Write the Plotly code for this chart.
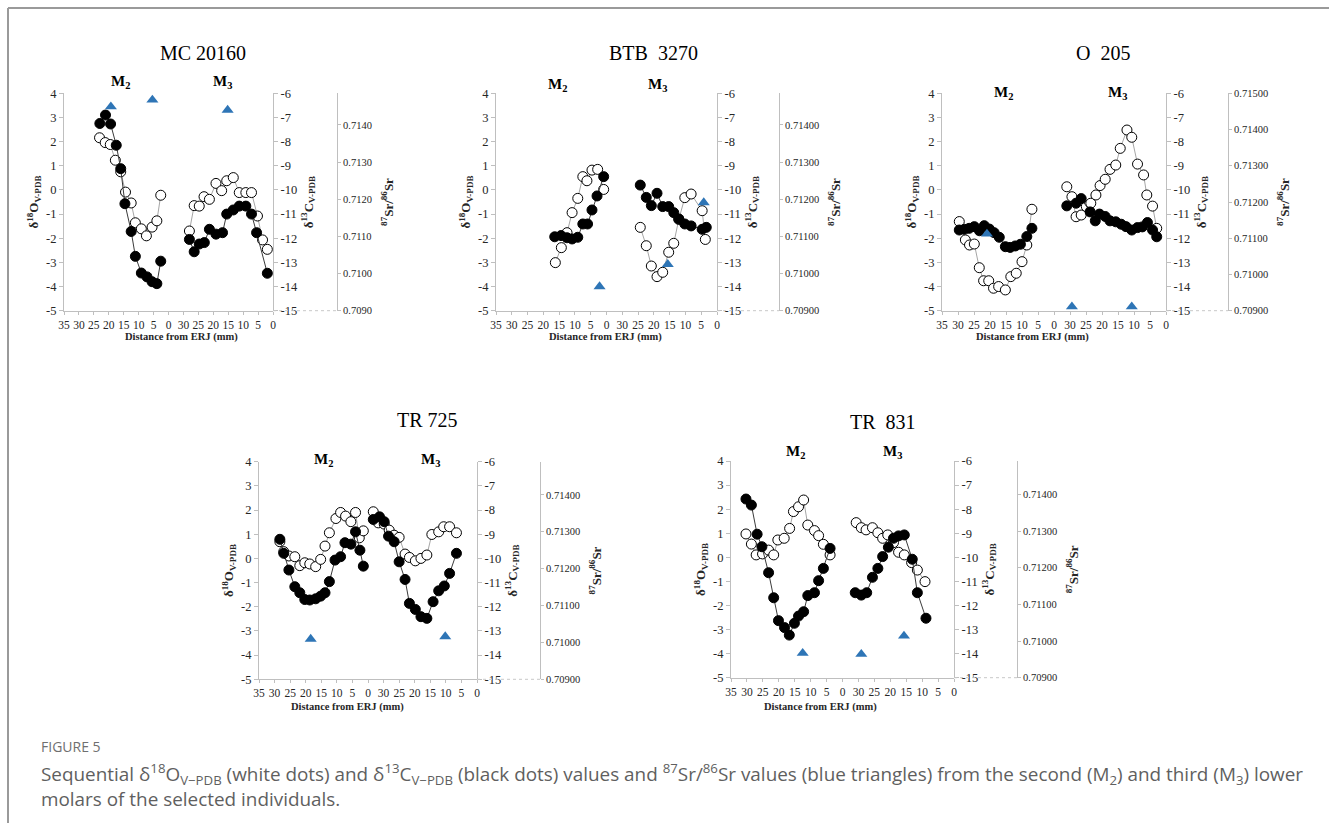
import plotly.graph_objects as go

W, H = 1329, 823

# ---------------- data (distance from ERJ in mm, isotope values) ----------------
# MC 20160
MC_M2_o_d = [23.1, 21.2, 19.5, 17.8, 16.0, 14.4, 12.5, 11.1, 9.1, 7.4, 5.5, 3.9, 2.6]
MC_M2_o = [2.16, 1.96, 1.88, 1.23, 0.75, -0.09, -0.54, -1.36, -1.61, -1.90, -1.54, -1.28, -0.22]
MC_M2_c_d = [23.0, 21.1, 19.4, 17.5, 16.0, 14.6, 12.5, 11.1, 9.1, 7.2, 5.5, 3.9, 2.6]
MC_M2_c = [-7.25, -6.90, -7.27, -8.15, -9.12, -10.57, -11.72, -12.75, -13.44, -13.60, -13.80, -13.88, -12.95]
MC_M3_o_d = [28.0, 26.4, 24.7, 23.1, 21.3, 19.1, 17.2, 15.5, 13.3, 11.3, 9.1, 7.2, 5.2, 3.5, 1.9]
MC_M3_o = [-1.70, -0.65, -0.67, -0.28, -0.39, 0.27, -0.03, 0.38, 0.51, -0.11, -0.11, -0.11, -1.08, -2.07, -2.46]
MC_M3_c_d = [28.0, 26.4, 24.7, 23.0, 21.3, 19.1, 16.9, 15.5, 13.3, 11.3, 9.1, 7.2, 5.5, 1.9]
MC_M3_c = [-12.05, -12.56, -12.24, -12.18, -11.63, -11.83, -11.77, -11.00, -10.83, -10.67, -10.67, -11.00, -11.77, -13.45]
MC_M2_sr_d = [19.3, 5.4]
MC_M2_sr = [0.71449, 0.71467]
MC_M3_sr_d = [15.2]
MC_M3_sr = [0.71440]

# BTB 3270
BTB_M2_o_d = [16.2, 14.3, 12.5, 10.9, 9.1, 7.5, 6.2, 4.6, 2.8, 0.9]
BTB_M2_o = [-3.01, -2.39, -1.77, -0.94, -0.35, 0.55, 0.38, 0.82, 0.85, 0.02]
BTB_M2_c_d = [16.4, 14.4, 12.5, 10.9, 9.1, 7.5, 6.0, 4.6, 3.0, 0.9]
BTB_M2_c = [-11.94, -11.89, -11.98, -12.03, -11.96, -11.41, -11.41, -10.83, -10.25, -9.45]
BTB_M3_o_d = [24.3, 22.4, 20.8, 19.0, 17.2, 15.3, 13.7, 12.1, 10.2, 8.2, 4.7, 3.7]
BTB_M3_o = [-1.55, -2.31, -3.15, -3.59, -3.41, -2.58, -2.21, -1.22, -0.32, -0.17, -0.86, -2.05]
BTB_M3_c_d = [24.3, 22.4, 20.8, 19.0, 17.2, 15.3, 13.7, 12.1, 10.2, 8.2, 4.7, 3.4]
BTB_M3_c = [-9.80, -10.31, -10.65, -10.14, -10.69, -10.69, -10.94, -11.20, -11.41, -11.49, -11.63, -11.55]
BTB_M2_sr_d = [2.2]
BTB_M2_sr = [0.70965]
BTB_M3_sr_d = [15.6, 4.2]
BTB_M3_sr = [0.71025, 0.71191]

# O 205
O_M2_o_d = [29.6, 27.7, 26.4, 24.9, 23.35, 22.0, 20.4, 18.9, 17.3, 15.2, 13.5, 11.8, 10.0, 8.5, 6.9]
O_M2_o = [-1.31, -2.07, -2.28, -2.24, -3.22, -3.76, -3.76, -4.07, -4.00, -4.14, -3.59, -3.45, -2.97, -2.28, -0.80]
O_M2_c_d = [29.6, 28.0, 26.5, 24.9, 23.3, 21.8, 20.2, 18.7, 17.1, 15.2, 13.7, 12.1, 10.5, 8.5, 6.9]
O_M2_c = [-11.66, -11.63, -11.59, -11.52, -11.69, -11.48, -11.62, -11.77, -11.96, -12.35, -12.38, -12.32, -12.25, -11.93, -11.59]
O_M3_o_d = [31.0, 29.4, 28.1, 26.5, 24.9, 23.5, 21.9, 20.6, 19.0, 17.5, 15.7, 14.3, 12.2, 10.7, 8.9, 7.0, 6.0, 4.2, 2.9]
O_M3_o = [0.13, -0.28, -1.11, -1.04, -0.69, -0.55, -0.21, 0.18, 0.44, 0.85, 1.03, 1.72, 2.48, 2.18, 1.07, 0.62, -0.21, -0.67, -1.59]
O_M3_c_d = [31.0, 28.1, 26.5, 23.7, 22.1, 20.8, 19.0, 17.5, 15.7, 14.0, 12.5, 10.7, 8.9, 7.4, 5.8, 4.2, 2.9]
O_M3_c = [-10.66, -10.55, -10.36, -10.91, -11.28, -11.00, -11.10, -11.28, -11.32, -11.42, -11.52, -11.66, -11.56, -11.53, -11.35, -11.66, -11.94]
O_M2_sr_d = [20.95]
O_M2_sr = [0.71112]
O_M3_sr_d = [29.4, 10.7]
O_M3_sr = [0.70911, 0.70911]

# TR 725
TR7_M2_o_d = [28.3, 27.05, 25.4, 23.5, 21.9, 20.3, 18.7, 16.8, 15.2, 13.8, 12.4, 10.3, 8.8, 7.2, 5.5, 4.0, 2.8, 1.5]
TR7_M2_o = [0.69, 0.28, 0.10, 0.07, -0.30, -0.18, -0.23, -0.34, -0.04, 0.51, 1.06, 1.65, 1.90, 1.75, 1.52, 1.90, 0.85, 1.14]
TR7_M2_c_d = [28.3, 27.05, 25.4, 23.5, 21.9, 20.3, 18.7, 16.8, 15.2, 13.8, 12.4, 10.6, 8.8, 7.4, 5.5, 4.0, 2.6, 1.5]
TR7_M2_c = [-9.21, -9.79, -10.48, -11.17, -11.42, -11.70, -11.72, -11.67, -11.56, -11.42, -10.96, -10.07, -9.93, -9.35, -9.41, -8.90, -9.66, -10.32]
TR7_M3_o_d = [33.3, 31.7, 29.8, 28.2, 26.6, 25.0, 23.1, 21.7, 19.8, 18.0, 16.1, 14.5, 12.3, 10.7, 8.8, 6.6]
TR7_M3_o = [1.93, 1.47, 1.42, 1.17, 0.96, 0.87, 0.18, 0.04, -0.10, 0.00, 0.14, 0.99, 1.10, 1.31, 1.31, 1.06]
TR7_M3_c_d = [33.3, 31.3, 29.8, 28.4, 26.6, 25.0, 23.1, 21.7, 19.8, 18.0, 16.1, 14.1, 12.3, 10.5, 8.8, 6.6]
TR7_M3_c = [-8.39, -8.28, -8.48, -9.08, -9.31, -10.14, -10.87, -11.86, -12.11, -12.41, -12.48, -11.79, -11.34, -11.14, -10.62, -9.79]
TR7_M2_sr_d = [18.4]
TR7_M2_sr = [0.71009]
TR7_M3_sr_d = [10.2]
TR7_M3_sr = [0.71016]

# TR 831
TR8_M2_o_d = [30.3, 28.6, 27.1, 25.1, 23.2, 21.6, 20.3, 18.3, 16.6, 15.4, 13.8, 12.2, 10.9, 8.8, 7.5, 6.0, 3.9]
TR8_M2_o = [0.97, 0.55, 0.10, 0.14, 0.30, 0.10, 0.72, 0.79, 1.20, 1.90, 2.10, 2.38, 1.34, 1.11, 0.90, 0.54, 0.10]
TR8_M2_c_d = [30.3, 28.6, 26.8, 25.3, 23.2, 21.6, 20.1, 18.2, 16.7, 15.1, 13.8, 12.2, 10.9, 8.8, 7.5, 6.0, 3.9]
TR8_M2_c = [-7.58, -7.83, -9.04, -9.56, -10.64, -11.68, -12.63, -12.92, -13.23, -12.74, -12.44, -12.26, -11.59, -11.47, -10.97, -10.46, -9.63]
TR8_M3_o_d = [30.7, 29.1, 27.6, 25.6, 23.9, 22.4, 20.8, 19.0, 17.4, 15.6, 13.3, 11.5, 9.1]
TR8_M3_o = [1.44, 1.23, 1.14, 1.23, 1.02, 0.79, 0.93, 0.61, 0.21, 0.10, -0.22, -0.53, -1.01]
TR8_M3_c_d = [31.0, 29.1, 27.4, 25.6, 23.9, 22.4, 20.6, 19.0, 17.4, 15.6, 13.1, 11.5, 8.8]
TR8_M3_c = [-11.47, -11.57, -11.47, -10.83, -10.46, -9.97, -9.58, -9.21, -9.11, -9.07, -10.08, -11.47, -12.53]
TR8_M2_sr_d = [12.5]
TR8_M2_sr = [0.70967]
TR8_M3_sr_d = [29.1, 15.7]
TR8_M3_sr = [0.70964, 0.71014]

M2_ticks = [35, 30, 25, 20, 15, 10, 5, 0]
M3_ticks = [30, 25, 20, 15, 10, 5, 0]
O_ticks = [-5, -4, -3, -2, -1, 0, 1, 2, 3, 4]
C_ticks = [-15, -14, -13, -12, -11, -10, -9, -8, -7, -6]
SR_ticks = [0.709, 0.710, 0.711, 0.712, 0.713, 0.714, 0.715]
O_range = [-5, 4]
C_range = [-15, -6]
SR_min = 0.709

# ---------------- panel geometry (pixels of the page) ----------------
panels = [
    dict(name="MC 20160", x0=64, x1=273, y0=93.3, y1=310.7, srx=337, srtop=0.71485, fmt="{:.4f}",
         t=(203, 53), m2=(120, 82), m3=(222, 82), dist=(182, 337),
         data=(MC_M2_o_d, MC_M2_o, MC_M2_c_d, MC_M2_c, MC_M3_o_d, MC_M3_o, MC_M3_c_d, MC_M3_c,
               MC_M2_sr_d, MC_M2_sr, MC_M3_sr_d, MC_M3_sr)),
    dict(name="BTB\u00a0 3270", x0=496, x1=717, y0=93.3, y1=310.7, srx=779, srtop=0.71485, fmt="{:.5f}",
         t=(653, 53), m2=(557, 85), m3=(657, 85), dist=(605, 337),
         data=(BTB_M2_o_d, BTB_M2_o, BTB_M2_c_d, BTB_M2_c, BTB_M3_o_d, BTB_M3_o, BTB_M3_c_d, BTB_M3_c,
               BTB_M2_sr_d, BTB_M2_sr, BTB_M3_sr_d, BTB_M3_sr)),
    dict(name="O\u00a0 205", x0=942, x1=1166, y0=93.3, y1=310.7, srx=1228, srtop=0.71500, fmt="{:.5f}",
         t=(1103, 53), m2=(1003, 93), m3=(1117, 93), dist=(1032, 337),
         data=(O_M2_o_d, O_M2_o, O_M2_c_d, O_M2_c, O_M3_o_d, O_M3_o, O_M3_c_d, O_M3_c,
               O_M2_sr_d, O_M2_sr, O_M3_sr_d, O_M3_sr)),
    dict(name="TR 725", x0=259, x1=477, y0=461.7, y1=679.3, srx=540, srtop=0.71490, fmt="{:.5f}",
         t=(427, 420), m2=(323, 460), m3=(430, 460), dist=(347, 707),
         data=(TR7_M2_o_d, TR7_M2_o, TR7_M2_c_d, TR7_M2_c, TR7_M3_o_d, TR7_M3_o, TR7_M3_c_d, TR7_M3_c,
               TR7_M2_sr_d, TR7_M2_sr, TR7_M3_sr_d, TR7_M3_sr)),
    dict(name="TR\u00a0 831", x0=731, x1=954, y0=461, y1=677.7, srx=1017, srtop=0.71491, fmt="{:.5f}",
         t=(883, 422), m2=(795, 452), m3=(892, 452), dist=(820, 707),
         data=(TR8_M2_o_d, TR8_M2_o, TR8_M2_c_d, TR8_M2_c, TR8_M3_o_d, TR8_M3_o, TR8_M3_c_d, TR8_M3_c,
               TR8_M2_sr_d, TR8_M2_sr, TR8_M3_sr_d, TR8_M3_sr)),
]

SERIF = "Liberation Serif, Times New Roman, serif"
TXT = "#262626"
AXC = "#bfbfbf"

fig = go.Figure()
layout = dict(width=W, height=H, margin=dict(l=0, r=0, t=0, b=0, autoexpand=False),
              paper_bgcolor="white", plot_bgcolor="rgba(0,0,0,0)", showlegend=False)
annotations = []
shapes = []


def px(x):
    return x / W


def py(y):
    return 1 - y / H


for i, p in enumerate(panels):
    xa2, xa3 = 2 * i + 1, 2 * i + 2
    yo, yc, ys = 3 * i + 1, 3 * i + 2, 3 * i + 3
    xm = (p["x0"] + p["x1"]) / 2
    ydom = [py(p["y1"]), py(p["y0"])]
    common_x = dict(range=[35, 0], showline=True, linecolor=AXC, linewidth=1, ticks="outside",
                    ticklen=3, tickcolor=AXC, showgrid=False, zeroline=False,
                    tickfont=dict(family=SERIF, size=11.5, color=TXT), anchor=f"y{yo}")
    layout[f"xaxis{xa2}"] = dict(common_x, domain=[px(p["x0"]), px(xm)], tickvals=M2_ticks,
                                 ticktext=[str(v) for v in M2_ticks])
    layout[f"xaxis{xa3}"] = dict(common_x, domain=[px(xm), px(p["x1"])], tickvals=M3_ticks,
                                 ticktext=[str(v) for v in M3_ticks])
    common_y = dict(showline=True, linecolor=AXC, linewidth=1, ticks="outside", ticklen=4,
                    tickcolor=AXC, showgrid=False, zeroline=False,
                    tickfont=dict(family=SERIF, size=12.5, color=TXT))
    srv = [v for v in SR_ticks if v <= p["srtop"] + 1e-9]
    layout[f"yaxis{yo}"] = dict(common_y, domain=ydom, range=O_range, tickvals=O_ticks,
                                ticktext=[str(v) for v in O_ticks], anchor=f"x{xa2}", side="left",
                                title=dict(text="<b>δ<sup>18</sup>O<sub>V-PDB</sub></b>",
                                           font=dict(family=SERIF, size=13, color=TXT), standoff=4))
    layout[f"yaxis{yc}"] = dict(common_y, domain=ydom, range=C_range, tickvals=C_ticks,
                                ticktext=[str(v) for v in C_ticks], overlaying=f"y{yo}",
                                side="right", anchor="free", position=px(p["x1"]),
                                title=dict(text="<b>δ<sup>13</sup>C<sub>V-PDB</sub></b>",
                                           font=dict(family=SERIF, size=13, color=TXT), standoff=6))
    layout[f"yaxis{ys}"] = dict(common_y, domain=ydom, range=[SR_min, p["srtop"]], tickvals=srv,
                                ticktext=[p["fmt"].format(v) for v in srv], overlaying=f"y{yo}",
                                side="right", anchor="free", position=px(p["srx"]), ticklen=3,
                                tickfont=dict(family=SERIF, size=10.5, color=TXT),
                                title=dict(text="<b><sup>87</sup>Sr/<sup>86</sup>Sr</b>",
                                           font=dict(family=SERIF, size=13, color=TXT), standoff=12))

    (m2od, m2o, m2cd, m2c, m3od, m3o, m3cd, m3c, m2sd, m2s, m3sd, m3s) = p["data"]
    for (dd, vv, xa) in [(m2od, m2o, xa2), (m3od, m3o, xa3)]:
        fig.add_trace(go.Scatter(x=dd, y=vv, xaxis=f"x{xa}", yaxis=f"y{yo}", mode="lines+markers",
                                 line=dict(color="#a6a6a6", width=1),
                                 marker=dict(size=10, color="white", line=dict(color="black", width=1)),
                                 cliponaxis=False))
    for (dd, vv, xa) in [(m2cd, m2c, xa2), (m3cd, m3c, xa3)]:
        fig.add_trace(go.Scatter(x=dd, y=vv, xaxis=f"x{xa}", yaxis=f"y{yc}", mode="lines+markers",
                                 line=dict(color="#3a3a3a", width=1),
                                 marker=dict(size=10, color="black", line=dict(color="black", width=1)),
                                 cliponaxis=False))
    for (dd, vv, xa) in [(m2sd, m2s, xa2), (m3sd, m3s, xa3)]:
        fig.add_trace(go.Scatter(x=dd, y=vv, xaxis=f"x{xa}", yaxis=f"y{ys}", mode="markers",
                                 marker=dict(size=10.5, symbol="triangle-up", color="#2e75b6"),
                                 cliponaxis=False))

    annotations.append(dict(text=p["name"], x=px(p["t"][0]), y=py(p["t"][1]), xref="paper", yref="paper",
                            xanchor="center", yanchor="middle", showarrow=False,
                            font=dict(family=SERIF, size=20, color="black")))
    for key, lab in (("m2", "<b>M<sub>2</sub></b>"), ("m3", "<b>M<sub>3</sub></b>")):
        annotations.append(dict(text=lab, x=px(p[key][0]), y=py(p[key][1]), xref="paper", yref="paper",
                                xanchor="center", yanchor="middle", showarrow=False,
                                font=dict(family=SERIF, size=15, color="black")))
    annotations.append(dict(text="<b>Distance from ERJ (mm)</b>", x=px(p["dist"][0]), y=py(p["dist"][1]),
                            xref="paper", yref="paper", xanchor="center", yanchor="middle",
                            showarrow=False, font=dict(family=SERIF, size=10.5, color=TXT)))
    shapes.append(dict(type="line", xref="paper", yref="paper", x0=px(p["x1"]), x1=px(p["srx"]),
                       y0=py(p["y1"]), y1=py(p["y1"]), line=dict(color="#c8c8c8", width=1, dash="dot")))

# frame
shapes.append(dict(type="line", xref="paper", yref="paper", x0=px(8), x1=1, y0=py(8), y1=py(8),
                   line=dict(color="#9a9a9a", width=2)))
shapes.append(dict(type="line", xref="paper", yref="paper", x0=px(8), x1=px(8), y0=py(8), y1=0,
                   line=dict(color="#9a9a9a", width=2)))

CAP = "Open Sans, Lato, sans-serif"
annotations.append(dict(text="FIGURE 5", x=px(39), y=py(746), xref="paper", yref="paper", xanchor="left",
                        yanchor="middle", showarrow=False, font=dict(family=CAP, size=14, color="#6f6f6f")))
annotations.append(dict(text="Sequential δ<sup>18</sup>O<sub>V−PDB</sub> (white dots) and δ<sup>13</sup>C<sub>V−PDB</sub> "
                             "(black dots) values and <sup>87</sup>Sr/<sup>86</sup>Sr values (blue triangles) from the "
                             "second (M<sub>2</sub>) and third (M<sub>3</sub>) lower<br>"
                             "molars of the selected individuals.",
                        x=px(39), y=py(785), xref="paper", yref="paper", xanchor="left", yanchor="middle",
                        align="left", showarrow=False, font=dict(family=CAP, size=18.9, color="#5f5f5f")))

layout["annotations"] = annotations
layout["shapes"] = shapes
fig.update_layout(**layout)
fig.write_html("out.html", config={"displayModeBar": False},
               post_script="document.body.style.margin='0px';")
